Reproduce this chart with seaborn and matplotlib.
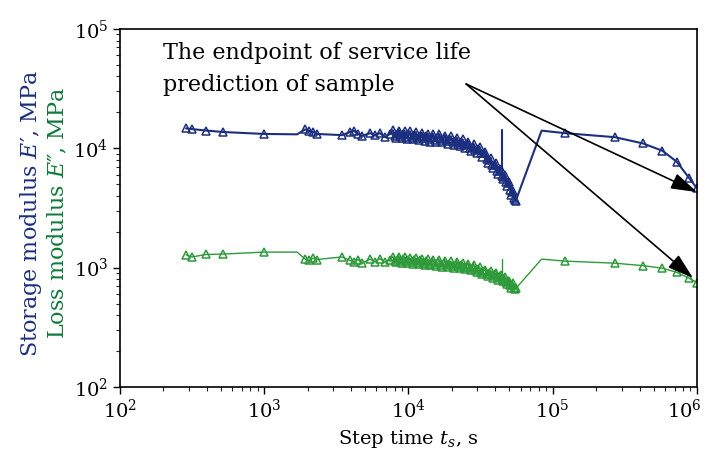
import matplotlib
matplotlib.use('Agg')

import matplotlib.pyplot as plt
import matplotlib.transforms as mtransforms
import seaborn as sns
import pandas as pd

# Step time (s) and moduli (MPa)
early_t = [287, 315, 395, 518, 995, 1690, 1920, 2040, 2180, 2320, 3460, 3930, 4190,
           4470, 4760, 5410, 5860, 6340, 6870, 7440]
storage_early_E = [14700, 14500, 14100, 13700, 13200, 13100, 14400, 14000, 13700, 13200, 12900,
                   13700, 14000, 13200, 12700, 13400, 12900, 13400, 12400, 13200]
loss_early_E = [1280, 1230, 1290, 1300, 1350, 1350, 1180, 1150, 1200, 1170, 1230, 1150, 1110,
                1170, 1090, 1180, 1120, 1190, 1110, 1170]

dense_t = [7800, 8000, 8200, 8400, 8600, 8800, 9000, 9200, 9400, 9600, 9800, 10000, 10250,
           10500, 10750, 11000, 11250, 11500, 11800, 12100, 12400, 12700, 13000, 13300, 13600,
           13900, 14200, 14500, 14800, 15200, 15600, 16000, 16400, 16800, 17200, 17600, 18000,
           18400, 18800, 19200, 19700, 20200, 20700, 21200, 21700, 22200, 22700, 23200, 23700,
           24200, 24800, 25400, 26000, 26600, 27200, 27800, 28400, 29000, 29700, 30400, 31100,
           31800, 32500, 33200, 34000, 34800, 35600, 36400, 37200, 38000, 38800, 39600, 40400,
           41200, 42000, 42800, 43600, 44400, 45200, 46000, 46800, 47600, 48400, 49200, 50000,
           50800, 51600, 52400, 53200, 54000, 54800, 55500]
storage_dense_E = [14200, 12700, 12200, 13400, 14100, 12600, 12100, 13200, 14000, 12500, 12000,
                   13100, 13900, 12400, 11900, 13000, 13700, 12300, 11700, 12800, 13500, 12100,
                   11500, 12600, 13300, 11900, 11400, 12500, 13200, 11800, 11300, 12400, 13100,
                   11700, 11200, 12200, 12800, 11500, 10900, 11900, 12600, 11200, 10700, 11600,
                   12200, 10900, 10400, 11300, 11900, 10600, 10000, 10800, 11400, 10100, 9500,
                   10300, 10800, 9600, 9100, 9800, 10300, 9100, 8500, 9100, 9300, 8100, 7500,
                   8000, 8300, 7300, 6800, 7300, 7500, 6500, 6100, 6500, 6700, 5900, 5500, 5800,
                   6000, 5200, 4800, 5100, 5200, 4500, 4100, 4300, 4400, 3800, 3700, 3650]
loss_dense_E = [1240, 1140, 1110, 1190, 1230, 1130, 1100, 1180, 1220, 1130, 1090, 1170, 1210,
                1120, 1080, 1160, 1200, 1110, 1070, 1150, 1190, 1100, 1060, 1140, 1180, 1080,
                1050, 1120, 1160, 1070, 1030, 1110, 1150, 1060, 1020, 1090, 1130, 1050, 1010,
                1080, 1130, 1040, 1000, 1070, 1110, 1030, 990, 1060, 1100, 1010, 980, 1040, 1080,
                990, 950, 1020, 1050, 960, 920, 980, 1010, 920, 890, 940, 960, 880, 850, 910,
                940, 860, 820, 880, 900, 830, 790, 850, 870, 800, 770, 810, 830, 760, 730, 770,
                780, 710, 680, 720, 740, 670, 660, 670]

late_t = [83700, 121600, 270000, 421000, 575000, 723000, 885000, 1000000]
storage_late_E = [14070, 13400, 12400, 11000, 9550, 7730, 5610, 4620]
loss_late_E = [1180, 1135, 1090, 1040, 990, 915, 813, 750]

spike_t = [44700, 44700]
storage_spike_E = [6000, 14200]
loss_spike_E = [800, 1190]

# line vertices drawn without a marker
no_marker_t = [1690, 83700]

x_ticks = [1e2, 1e3, 1e4, 1e5, 1e6]
y_ticks = [1e2, 1e3, 1e4, 1e5]

navy = '#1c2f7e'
green = '#2e9a3a'

sns.set_theme(style='white')
plt.rcParams['font.family'] = ['DejaVu Serif']
plt.rcParams['mathtext.fontset'] = 'dejavuserif'

fig, ax = plt.subplots(figsize=(7.11, 4.74), dpi=100)
fig.subplots_adjust(left=120 / 711, right=697 / 711, top=1 - 29 / 474, bottom=1 - 387 / 474)


def draw_series(t, E, color, lw):
    df = pd.DataFrame({'t': t, 'E': E})
    mask = [v not in no_marker_t for v in t]
    sns.lineplot(data=df, x='t', y='E', ax=ax, color=color, lw=lw, estimator=None, sort=False,
                 marker='^', markersize=5.5, markerfacecolor='none', markeredgecolor=color,
                 markeredgewidth=1.1, markevery=mask)


all_t = early_t + dense_t + late_t
draw_series(all_t, storage_early_E + storage_dense_E + storage_late_E, navy, 1.5)
draw_series(all_t, loss_early_E + loss_dense_E + loss_late_E, green, 1.0)
ax.plot(spike_t, storage_spike_E, color=navy, lw=1.5)
ax.plot(spike_t, loss_spike_E, color=green, lw=1.0)

ax.set_xscale('log')
ax.set_yscale('log')
ax.set_xlim(1e2, 1e6)
ax.set_ylim(1e2, 1e5)
ax.set_xticks(x_ticks)
ax.set_yticks(y_ticks)
ax.tick_params(axis='both', which='major', direction='out', length=5, width=1, labelsize=14,
               bottom=True, left=True, top=False, right=False, colors='black')
ax.tick_params(axis='both', which='minor', direction='out', length=3, width=0.8,
               bottom=True, left=True, top=False, right=False)
for s in ax.spines.values():
    s.set_color('black')
    s.set_linewidth(1.2)

# keep the last x tick label inside the picture
last = ax.xaxis.get_major_ticks()[-1].label1
last.set_transform(last.get_transform() + mtransforms.ScaledTranslation(-9 / 72, 0, fig.dpi_scale_trans))

ax.set_xlabel('Step time $t_s$, s', fontsize=14, color='black', labelpad=4)
ax.set_ylabel('')
fig.text(31 / 711, 1 - 214 / 474, 'Storage modulus $E$\u2032, MPa', rotation=90, ha='center',
         va='center', fontsize=16, color=navy)
fig.text(58 / 711, 1 - 213 / 474, 'Loss modulus $E$\u2033, MPa', rotation=90, ha='center',
         va='center', fontsize=16, color='#0f7a3c')

ax.text(0.0745, 0.965, 'The endpoint of service life\nprediction of sample', transform=ax.transAxes,
        ha='left', va='top', fontsize=16, color='black', linespacing=1.6)

arrow = dict(arrowstyle='-|>,head_length=0.8,head_width=0.25', color='black', lw=1.2,
             mutation_scale=20, shrinkA=0, shrinkB=0)
ax.annotate('', xy=(1e6, 4300), xytext=(25100, 34600), arrowprops=arrow)
ax.annotate('', xy=(938000, 819), xytext=(25100, 34600), arrowprops=arrow)

fig.savefig('out.png', dpi=100)
